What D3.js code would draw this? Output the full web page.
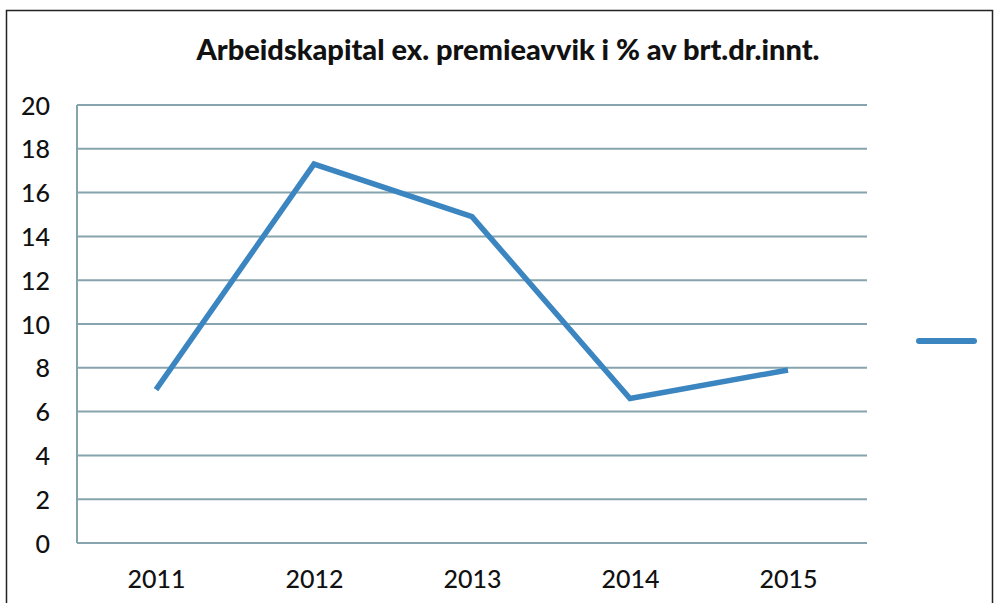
<!DOCTYPE html>
<html>
  <head>
    <meta charset="utf-8">
    <script src="https://d3js.org/d3.v7.min.js"></script>
    <style>
      body { margin: 0; background: white; }
      text { font-family: Lato, "Open Sans", sans-serif; fill: #111; }
    </style>
  </head>
  <body>
    <div id="chart"></div>
    <script>
      // data
      const years = ['2011', '2012', '2013', '2014', '2015']
      const values = [7.0, 17.3, 14.9, 6.6, 7.9]
      const yTicks = [0, 2, 4, 6, 8, 10, 12, 14, 16, 18, 20]
      const title = 'Arbeidskapital ex. premieavvik i % av brt.dr.innt.'

      const width = 995, height = 603
      const plot = {left: 77, right: 867, top: 105, bottom: 543}
      const lineColor = '#3b86c1'
      const gridColor = '#86a4ae'

      const svg = d3.select('#chart').append('svg')
        .attr('width', width)
        .attr('height', height)

      // outer frame
      svg.append('rect')
        .attr('x', 6.5).attr('y', 10.5)
        .attr('width', 986).attr('height', 620)
        .attr('fill', 'none').attr('stroke', '#222').attr('stroke-width', 1.5)

      svg.append('text')
        .attr('x', 508).attr('y', 60)
        .attr('text-anchor', 'middle')
        .style('font-weight', '900').style('font-size', '28px')
        .attr('textLength', 623).attr('lengthAdjust', 'spacingAndGlyphs')
        .text(title)

      const x = d3.scalePoint().domain(years).range([plot.left, plot.right]).padding(0.5)
      const y = d3.scaleLinear().domain([0, 20]).range([plot.bottom, plot.top])

      // gridlines
      svg.append('g').selectAll('line')
        .data(yTicks)
        .join('line')
          .attr('x1', plot.left).attr('x2', plot.right)
          .attr('y1', d => y(d)).attr('y2', d => y(d))
          .attr('stroke', gridColor).attr('stroke-width', 2)

      // y axis line
      svg.append('line')
        .attr('x1', plot.left).attr('x2', plot.left)
        .attr('y1', plot.top).attr('y2', plot.bottom)
        .attr('stroke', gridColor).attr('stroke-width', 2)

      const yAxis = svg.append('g')
        .attr('transform', `translate(${plot.left},0)`)
        .call(d3.axisLeft(y).tickValues(yTicks).tickSize(0).tickPadding(27))
      yAxis.select('.domain').remove()
      yAxis.selectAll('text').style('font-size', '25px').style('font-family', 'Lato, sans-serif')
        .style('font-weight', '500').attr('fill', '#111').attr('dy', '0.36em')

      const xAxis = svg.append('g')
        .attr('transform', `translate(0,${plot.bottom})`)
        .call(d3.axisBottom(x).tickSize(0).tickPadding(27))
      xAxis.select('.domain').remove()
      xAxis.selectAll('text').style('font-size', '25px').style('font-family', 'Lato, sans-serif')
        .style('font-weight', '500').attr('fill', '#111')

      const line = d3.line()
        .x((d, i) => x(years[i]))
        .y(d => y(d))

      svg.append('path')
        .datum(values)
        .attr('d', line)
        .attr('fill', 'none')
        .attr('stroke', lineColor)
        .attr('stroke-width', 5.5)
        .attr('stroke-linejoin', 'miter')

      // legend (no label)
      svg.append('line')
        .attr('x1', 919).attr('x2', 974)
        .attr('y1', 341).attr('y2', 341)
        .attr('stroke', lineColor).attr('stroke-width', 6)
        .attr('stroke-linecap', 'round')
    </script>
  </body>
</html>
